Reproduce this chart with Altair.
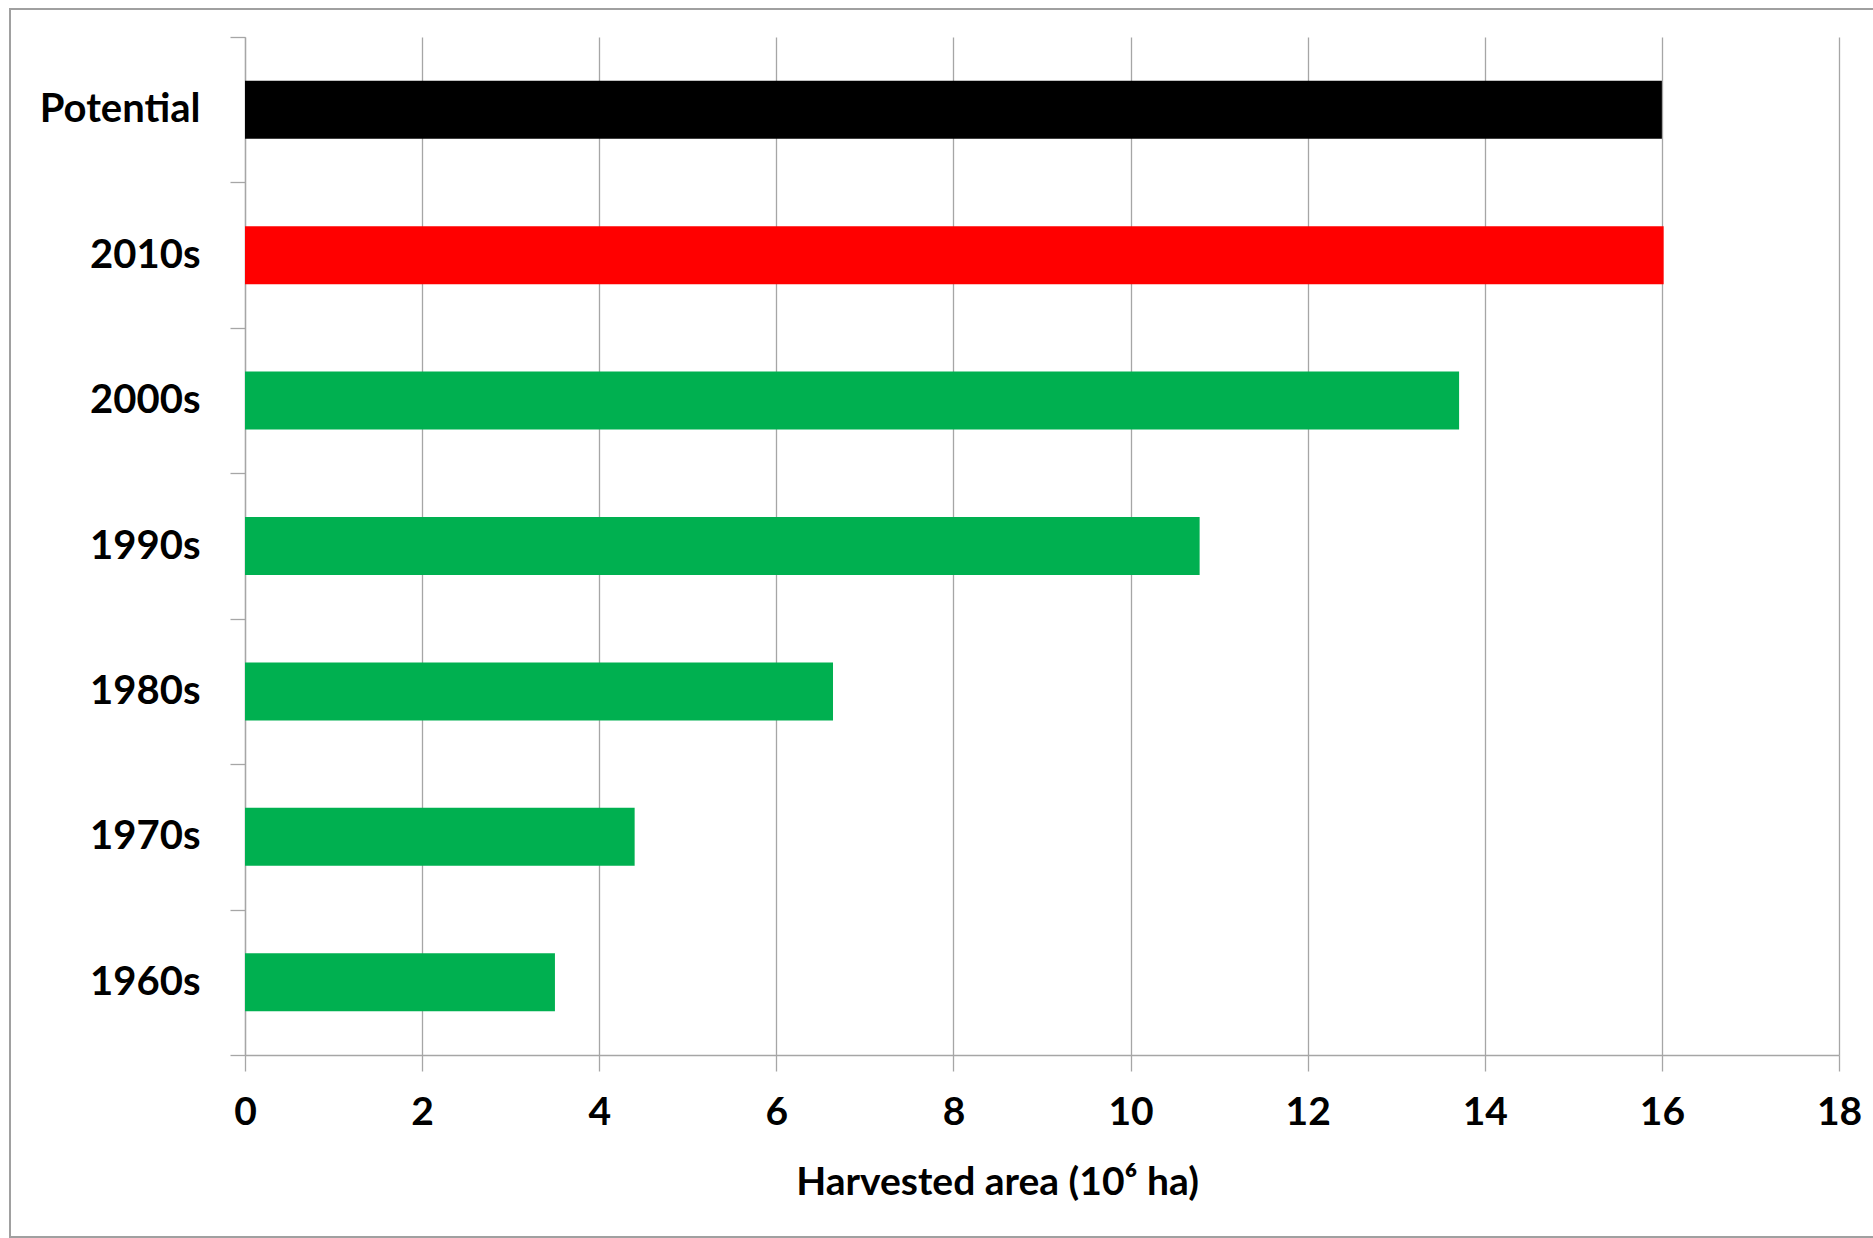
import altair as alt
import pandas as pd

categories = ["Potential", "2010s", "2000s", "1990s", "1980s", "1970s", "1960s"]
values = [16.0, 16.02, 13.71, 10.78, 6.64, 4.40, 3.50]
bar_colors = ["#000000", "#FF0000", "#00B050", "#00B050", "#00B050", "#00B050", "#00B050"]
x_ticks = [0, 2, 4, 6, 8, 10, 12, 14, 16, 18]
x_title = "Harvested area (10\u2076 ha)"

df = pd.DataFrame({"category": categories, "value": values})

GRAY = "#A6A6A6"
FONT = "Lato"

bars = alt.Chart(df).mark_bar(size=58).encode(
    y=alt.Y(
        "category:N",
        sort=categories,
        scale=alt.Scale(paddingInner=0, paddingOuter=0),
        axis=alt.Axis(
            title=None,
            tickBand="extent",
            tickSize=15,
            tickColor=GRAY,
            tickWidth=1.3,
            domainColor=GRAY,
            domainWidth=1.3,
            labelFont=FONT,
            labelFontWeight="bold",
            labelFontSize=40,
            labelColor="#000000",
            labelPadding=30,
            grid=False,
        ),
    ),
    x=alt.X(
        "value:Q",
        scale=alt.Scale(domain=[0, 18], nice=False),
        axis=alt.Axis(
            title=x_title,
            values=x_ticks,
            grid=True,
            gridColor=GRAY,
            gridWidth=1.3,
            tickSize=16,
            tickColor=GRAY,
            tickWidth=1.3,
            domainColor=GRAY,
            domainWidth=1.3,
            labelFont=FONT,
            labelFontWeight="bold",
            labelFontSize=39,
            labelColor="#000000",
            labelPadding=22,
            labelFlush=False,
            labelOverlap=False,
            titleFont=FONT,
            titleFontWeight="bold",
            titleFontSize=39,
            titleColor="#000000",
            titleAlign="center",
            titleBaseline="alphabetic",
            titleX=752,
            titleY=139,
        ),
    ),
    color=alt.Color(
        "category:N",
        scale=alt.Scale(domain=categories, range=bar_colors),
        legend=None,
    ),
)

frame = alt.Chart(pd.DataFrame({"a": [0]})).mark_rect(
    fill=None, stroke="#A0A0A0", strokeWidth=2
).encode(
    x=alt.value(-235),
    x2=alt.value(1700),
    y=alt.value(-28),
    y2=alt.value(1200),
)

chart = alt.layer(bars, frame).properties(
    width=1594,
    height=1018,
    autosize=alt.AutoSizeParams(type="none"),
    padding={"left": 245, "top": 37, "right": 34, "bottom": 183},
    background="#FFFFFF",
).configure_view(stroke=None)

chart.save("out.html", embed_options={"renderer": "svg", "actions": False})
